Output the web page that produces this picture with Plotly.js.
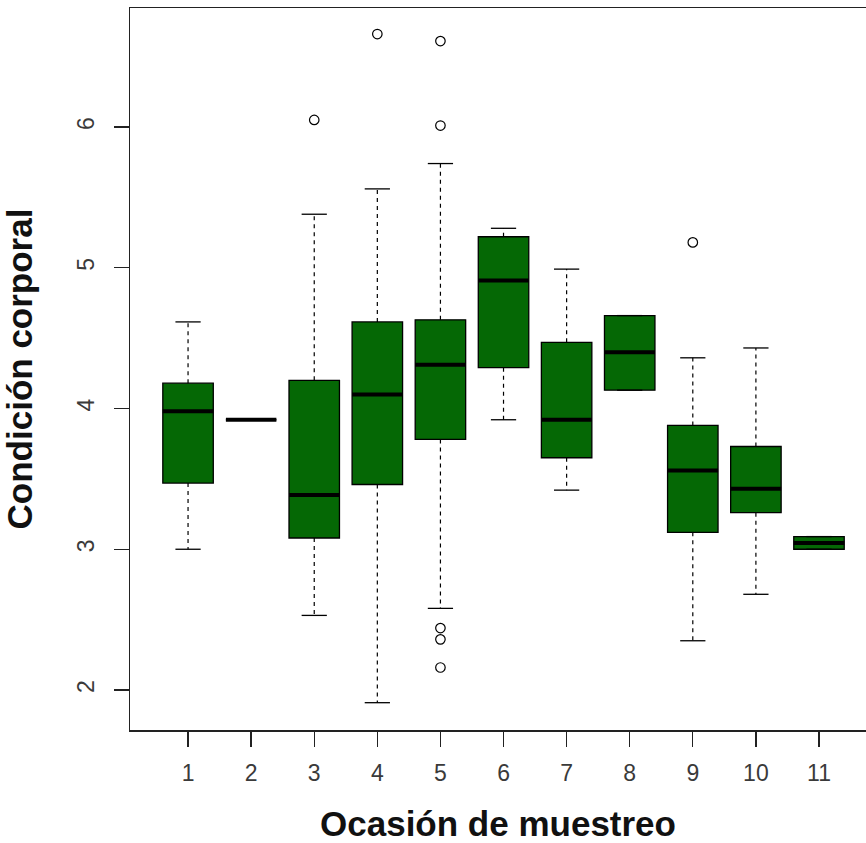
<!DOCTYPE html>
<html>
<head>
<meta charset="utf-8">
<script src="https://cdn.plot.ly/plotly-3.0.1.min.js"></script>
<style>html,body{margin:0;padding:0;background:#fff;}#chart{width:866px;height:843px;}</style>
</head>
<body>
<div id="chart"></div>
<script>
// Sampling occasions
const occasions = [1, 2, 3, 4, 5, 6, 7, 8, 9, 10, 11];
const xTickLabels = ['1','2','3','4','5','6','7','8','9','10','11'];
const yTickVals = [2, 3, 4, 5, 6];
// Box statistics
const lowerWhisker = [3.00, 3.92, 2.53, 1.91, 2.58, 3.92, 3.42, 4.13, 2.35, 2.68, 3.00];
const q1           = [3.47, 3.92, 3.08, 3.46, 3.78, 4.29, 3.65, 4.13, 3.12, 3.26, 3.00];
const medians      = [3.98, 3.92, 3.385, 4.10, 4.31, 4.91, 3.92, 4.40, 3.56, 3.43, 3.045];
const q3           = [4.18, 3.92, 4.20, 4.615, 4.63, 5.22, 4.47, 4.66, 3.88, 3.73, 3.09];
const upperWhisker = [4.615, 3.92, 5.38, 5.56, 5.74, 5.28, 4.99, 4.66, 4.36, 4.43, 3.09];
// Outliers
const outlierX = [3, 4, 5, 5, 5, 5, 5, 9];
const outlierY = [6.05, 6.66, 6.61, 6.01, 2.44, 2.36, 2.16, 5.18];

const boxHalf = 0.4, capHalf = 0.2;

function segs(xc, ya, yb, half) {
  const xs = [], ys = [];
  for (let i = 0; i < xc.length; i++) {
    if (half === 0) {
      if (ya[i] === yb[i]) continue;
      xs.push(xc[i], xc[i], null); ys.push(ya[i], yb[i], null);
    } else {
      xs.push(xc[i] - half, xc[i] + half, null); ys.push(ya[i], yb[i], null);
    }
  }
  return {xs, ys};
}

const wUp = segs(occasions, q3, upperWhisker, 0);
const wLo = segs(occasions, q1, lowerWhisker, 0);
const capU = segs(occasions, upperWhisker, upperWhisker, capHalf);
const capL = segs(occasions, lowerWhisker, lowerWhisker, capHalf);
const medL = segs(occasions, medians, medians, boxHalf);

const traces = [
  {type: 'scatter', mode: 'lines', x: wUp.xs.concat(wLo.xs), y: wUp.ys.concat(wLo.ys),
   line: {color: '#000', width: 1.2, dash: '4px,4px'}, hoverinfo: 'skip'},
  {type: 'scatter', mode: 'lines', x: capU.xs.concat(capL.xs), y: capU.ys.concat(capL.ys),
   line: {color: '#000', width: 1.3}, hoverinfo: 'skip'},
  {type: 'box', x: occasions, q1: q1, median: medians, q3: q3,
   lowerfence: q1, upperfence: q3, width: 0.8,
   fillcolor: '#056805', line: {color: '#000', width: 1.3}, hoverinfo: 'skip'},
  {type: 'scatter', mode: 'lines', x: medL.xs, y: medL.ys,
   line: {color: '#000', width: 4}, hoverinfo: 'skip'},
  {type: 'scatter', mode: 'markers', x: outlierX, y: outlierY,
   marker: {symbol: 'circle-open', size: 9.5, color: '#000', line: {width: 1.2}}, hoverinfo: 'skip'}
];

const layout = {
  width: 866, height: 843,
  margin: {l: 130, r: 0, t: 8, b: 113},
  paper_bgcolor: '#fff', plot_bgcolor: '#fff',
  showlegend: false,
  font: {family: 'Liberation Sans, Arial, sans-serif', color: '#333'},
  xaxis: {
    range: [0.08, 11.745], tickvals: occasions, ticktext: xTickLabels,
    ticks: 'outside', ticklen: 15, tickwidth: 1.3, tickcolor: '#222',
    showline: true, linecolor: '#222', linewidth: 1.5, mirror: true,
    showgrid: false, zeroline: false, ticklabelstandoff: 7,
    tickfont: {size: 23, color: '#3a3a3a'},
    title: {text: 'Ocasión de muestreo', standoff: 27,
            font: {size: 35, color: '#111', weight: 'bold'}}
  },
  yaxis: {
    range: [1.716, 6.845], tickvals: yTickVals,
    ticks: 'outside', ticklen: 15, tickwidth: 1.3, tickcolor: '#222',
    showline: true, linecolor: '#222', linewidth: 1.5, mirror: false,
    showgrid: false, zeroline: false, tickangle: -90, ticklabelstandoff: 10,
    tickfont: {size: 23, color: '#3a3a3a'},
    title: {text: 'Condición corporal', standoff: 34,
            font: {size: 35, color: '#111', weight: 'bold'}}
  }
};

Plotly.newPlot('chart', traces, layout, {staticPlot: true, displayModeBar: false});
</script>
</body>
</html>
